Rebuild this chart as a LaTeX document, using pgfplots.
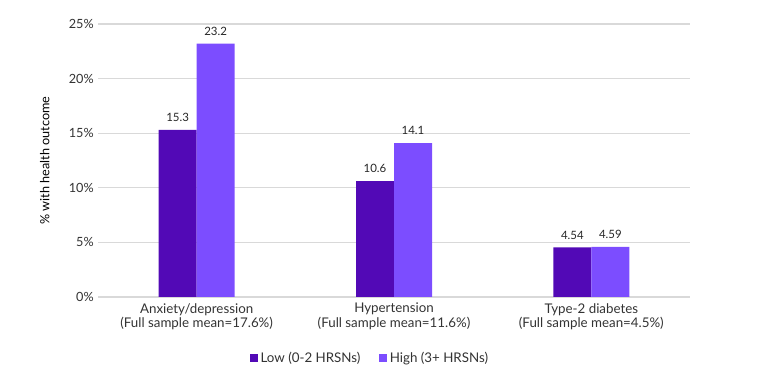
\documentclass[border=0pt]{standalone}
\usepackage{pgfplots}
\pgfplotsset{compat=1.18}
\usepackage{fontspec}
\setmainfont{Lato}
\definecolor{lowc}{HTML}{5209B6}
\definecolor{highc}{HTML}{7C4DFF}
\definecolor{gridc}{HTML}{D9D9D9}
\begin{document}
\fontsize{9}{11}\selectfont
\begin{tikzpicture}
\useasboundingbox (0,0) rectangle (576pt,288pt);
\begin{axis}[
  at={(73.5pt,65.25pt)}, anchor=south west,
  scale only axis, width=444pt, height=204.75pt,
  xmin=-0.5, xmax=2.5, ymin=0, ymax=25,
  ybar=0pt, bar width=28.5pt,
  xtick={0,1,2},
  xticklabels={{Anxiety/depression\\(Full sample mean=17.6\%)},{Hypertension\\(Full sample mean=11.6\%)},{Type-2 diabetes\\(Full sample mean=4.5\%)}},
  x tick label style={align=center, text=black!80, font=\fontsize{10}{11}\selectfont, yshift=-1.5pt},
  ytick={0,5,10,15,20,25},
  yticklabel={\pgfmathprintnumber{\tick}\%},
  y tick label style={text=black!80, font=\fontsize{9.5}{11}\selectfont},
  /pgf/number format/assume math mode=true,
  major tick length=0pt,
  axis line style={draw=none},
  ymajorgrids, major grid style={gridc, line width=0.8pt},
  ylabel={\% with health outcome},
  ylabel style={at={(axis description cs:-0.09,0.5)}, anchor=center, font=\fontsize{9.5}{11}\selectfont},
  nodes near coords,
  nodes near coords style={text=black!85, font=\fontsize{8.6}{10}\selectfont, yshift=3pt},
  point meta=explicit symbolic,
  legend style={at={(0.46,-0.18)}, anchor=north, draw=none, legend columns=2,
    /tikz/every even column/.append style={column sep=12pt}, font=\fontsize{10}{11}\selectfont, text=black!80},
  legend image code/.code={\fill[#1] (0pt,-3pt) rectangle (6pt,3pt);},
  enlarge y limits=false,
]
\addplot+[draw=none, fill=lowc] coordinates {(0,15.3)[15.3] (1,10.6)[10.6] (2,4.54)[4.54]};
\addplot+[draw=none, fill=highc] coordinates {(0,23.2)[23.2] (1,14.1)[14.1] (2,4.59)[4.59]};
\legend{Low (0-2 HRSNs), High (3+ HRSNs)}
\end{axis}
\end{tikzpicture}
\end{document}
